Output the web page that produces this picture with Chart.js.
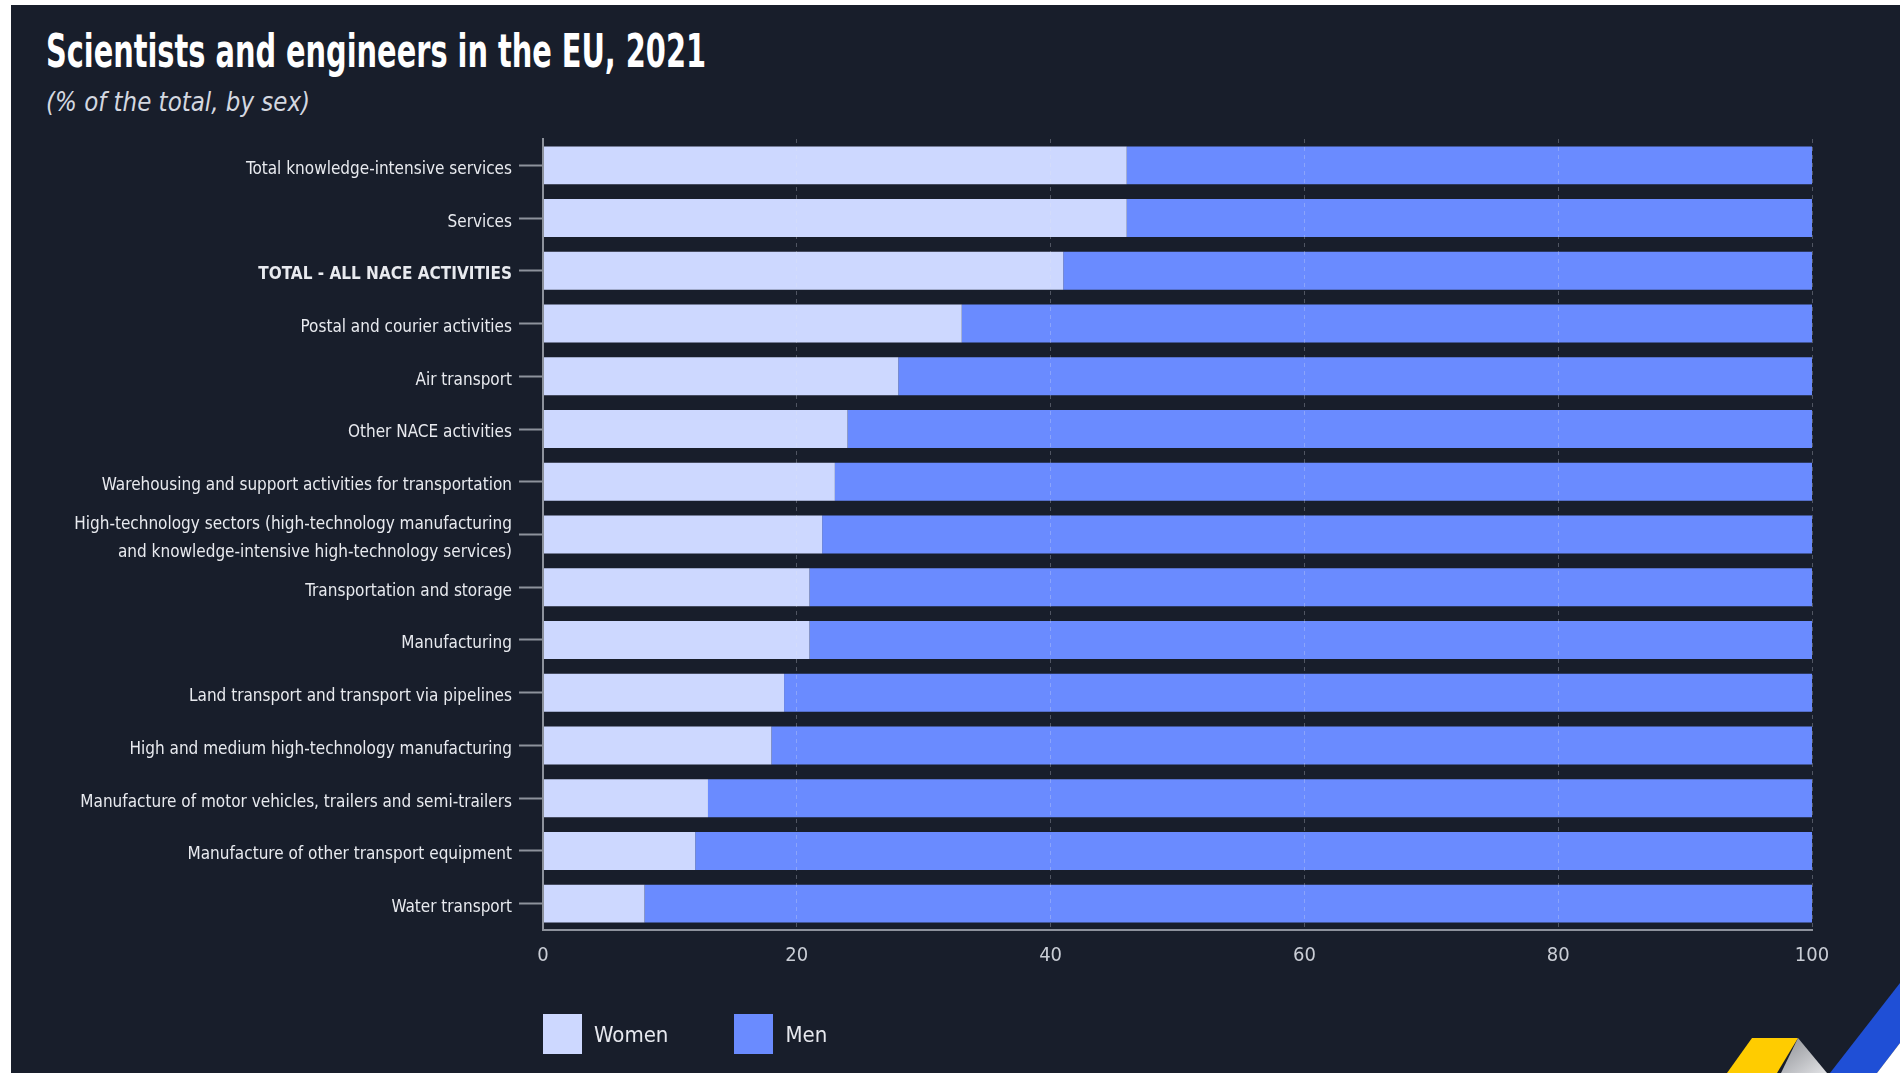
<!DOCTYPE html>
<html>
<head>
<meta charset="utf-8">
<title>Scientists and engineers in the EU, 2021</title>
<script src="https://cdn.jsdelivr.net/npm/chart.js@4.4.1/dist/chart.umd.min.js"></script>
<style>
    html, body {
        margin: 0;
        padding: 0;
        width: 1900px;
        height: 1073px;
        overflow: hidden;
        background: #ffffff;
    }
    #panel {
        position: absolute;
        left: 11px;
        top: 5px;
        width: 1889px;
        height: 1068px;
        background: #181e2b;
    }
    .narrow {
        font-family: "Liberation Sans Narrow", "DejaVu Sans Condensed", "Roboto", sans-serif;
    }
    #title, #subtitle {
        position: absolute;
        left: 46px;
        white-space: nowrap;
        line-height: 1;
        transform-origin: 0 0;
    }
    #title {
        top: 27px;
        font-size: 47px;
        font-weight: bold;
        color: #ffffff;
    }
    #subtitle {
        top: 88px;
        font-size: 27px;
        font-style: italic;
        color: #d4d8e0;
    }
    #chart {
        position: absolute;
        left: 0;
        top: 0;
    }
    #legend {
        position: absolute;
        left: 543px;
        top: 1014px;
        display: flex;
        align-items: center;
    }
    .item {
        display: flex;
        align-items: center;
        margin-right: 66px;
        font-size: 22px;
        color: #e6e8ee;
    }
    .swatch {
        width: 39px;
        height: 40px;
        margin-right: 12px;
    }
    #logo {
        position: absolute;
        left: 0;
        top: 0;
    }
</style>
</head>
<body>
<div id="panel"></div>
<div id="title" class="narrow">Scientists and engineers in the EU, 2021</div>
<div id="subtitle" class="narrow">(% of the total, by sex)</div>
<canvas id="chart" width="1900" height="1073"></canvas>
<div id="legend" class="narrow"></div>
<svg id="logo" width="1900" height="1073">
    <defs>
        <linearGradient id="grey" x1="0" y1="0" x2="1" y2="1">
            <stop offset="0" stop-color="#8d8f94"/>
            <stop offset="1" stop-color="#e2e3e6"/>
        </linearGradient>
    </defs>
    <polygon points="1727,1073 1752,1038 1798,1038 1777,1073" fill="#ffcc00"/>
    <polygon points="1798,1038 1827,1073 1781,1073" fill="url(#grey)"/>
    <polygon points="1830,1073 1900,983 1900,1043 1877,1073" fill="#1f4fd6"/>
    <polygon points="1877,1073 1900,1043 1900,1073" fill="#ffffff"/>
</svg>
<script>
    var FONT = "'Liberation Sans Narrow', 'DejaVu Sans Condensed', Roboto, sans-serif";

    var categories = [
        "Total knowledge-intensive services",
        "Services",
        "TOTAL - ALL NACE ACTIVITIES",
        "Postal and courier activities",
        "Air transport",
        "Other NACE activities",
        "Warehousing and support activities for transportation",
        ["High-technology sectors (high-technology manufacturing", "and knowledge-intensive high-technology services)"],
        "Transportation and storage",
        "Manufacturing",
        "Land transport and transport via pipelines",
        "High and medium high-technology manufacturing",
        "Manufacture of motor vehicles, trailers and semi-trailers",
        "Manufacture of other transport equipment",
        "Water transport"
    ];
    var women = [46, 46, 41, 33, 28, 24, 23, 22, 21, 21, 19, 18, 13, 12, 8];
    var men = [54, 54, 59, 67, 72, 76, 77, 78, 79, 79, 81, 82, 87, 88, 92];
    var xTicks = [0, 20, 40, 60, 80, 100];

    var WOMEN_COLOR = "#cdd8ff";
    var MEN_COLOR = "#6a8bff";
    var AXIS_COLOR = "#8d929c";

    // squeeze the html titles to the width of the condensed original
    function fitWidth(id, target) {
        var el = document.getElementById(id);
        var w = el.getBoundingClientRect().width;
        el.style.transform = "scaleX(" + (target / w) + ")";
    }
    fitWidth("title", 660);
    fitWidth("subtitle", 264);

    var chart = new Chart(document.getElementById("chart"), {
        type: "bar",
        data: {
            labels: categories,
            datasets: [{
                label: "Women",
                data: women,
                backgroundColor: WOMEN_COLOR,
                categoryPercentage: 0.72,
                barPercentage: 1
            }, {
                label: "Men",
                data: men,
                backgroundColor: MEN_COLOR,
                categoryPercentage: 0.72,
                barPercentage: 1
            }]
        },
        options: {
            indexAxis: "y",
            responsive: false,
            animation: false,
            devicePixelRatio: 1,
            layout: {
                padding: { left: 0, top: 139, right: 88, bottom: 93 }
            },
            plugins: {
                legend: { display: false },
                tooltip: { enabled: false }
            },
            scales: {
                x: {
                    stacked: true,
                    min: 0,
                    max: 100,
                    afterBuildTicks: function(scale) {
                        scale.ticks = xTicks.map(function(v) { return { value: v }; });
                    },
                    afterFit: function(scale) {
                        scale.height = 50;
                    },
                    grid: {
                        color: "rgba(225, 230, 240, 0.28)",
                        lineWidth: 1,
                        drawTicks: false,
                        z: 1
                    },
                    border: {
                        display: true,
                        color: AXIS_COLOR,
                        width: 2,
                        dash: [4, 4],
                        z: 1
                    },
                    ticks: {
                        color: "#c9cdd5",
                        padding: 14,
                        font: { family: FONT, size: 20 }
                    }
                },
                y: {
                    stacked: true,
                    afterFit: function(scale) {
                        scale.width = 543;
                    },
                    grid: {
                        offset: false,
                        drawOnChartArea: false,
                        drawTicks: true,
                        tickLength: 24,
                        tickColor: AXIS_COLOR,
                        tickWidth: 2,
                        color: AXIS_COLOR
                    },
                    border: {
                        display: true,
                        color: AXIS_COLOR,
                        width: 2,
                        z: 1
                    },
                    ticks: {
                        color: "#e8eaef",
                        padding: 7,
                        labelOffset: 4,
                        autoSkip: false,
                        font: function(ctx) {
                            return {
                                family: FONT,
                                size: 17,
                                weight: ctx.index === 2 ? "bold" : "normal",
                                lineHeight: 1.6
                            };
                        }
                    }
                }
            }
        }
    });

    // legend built from the chart's own datasets
    var legend = document.getElementById("legend");
    chart.data.datasets.forEach(function(ds) {
        var item = document.createElement("div");
        item.className = "item";
        var sw = document.createElement("div");
        sw.className = "swatch";
        sw.style.background = ds.backgroundColor;
        var txt = document.createElement("span");
        txt.textContent = ds.label;
        item.appendChild(sw);
        item.appendChild(txt);
        legend.appendChild(item);
    });
</script>
</body>
</html>
